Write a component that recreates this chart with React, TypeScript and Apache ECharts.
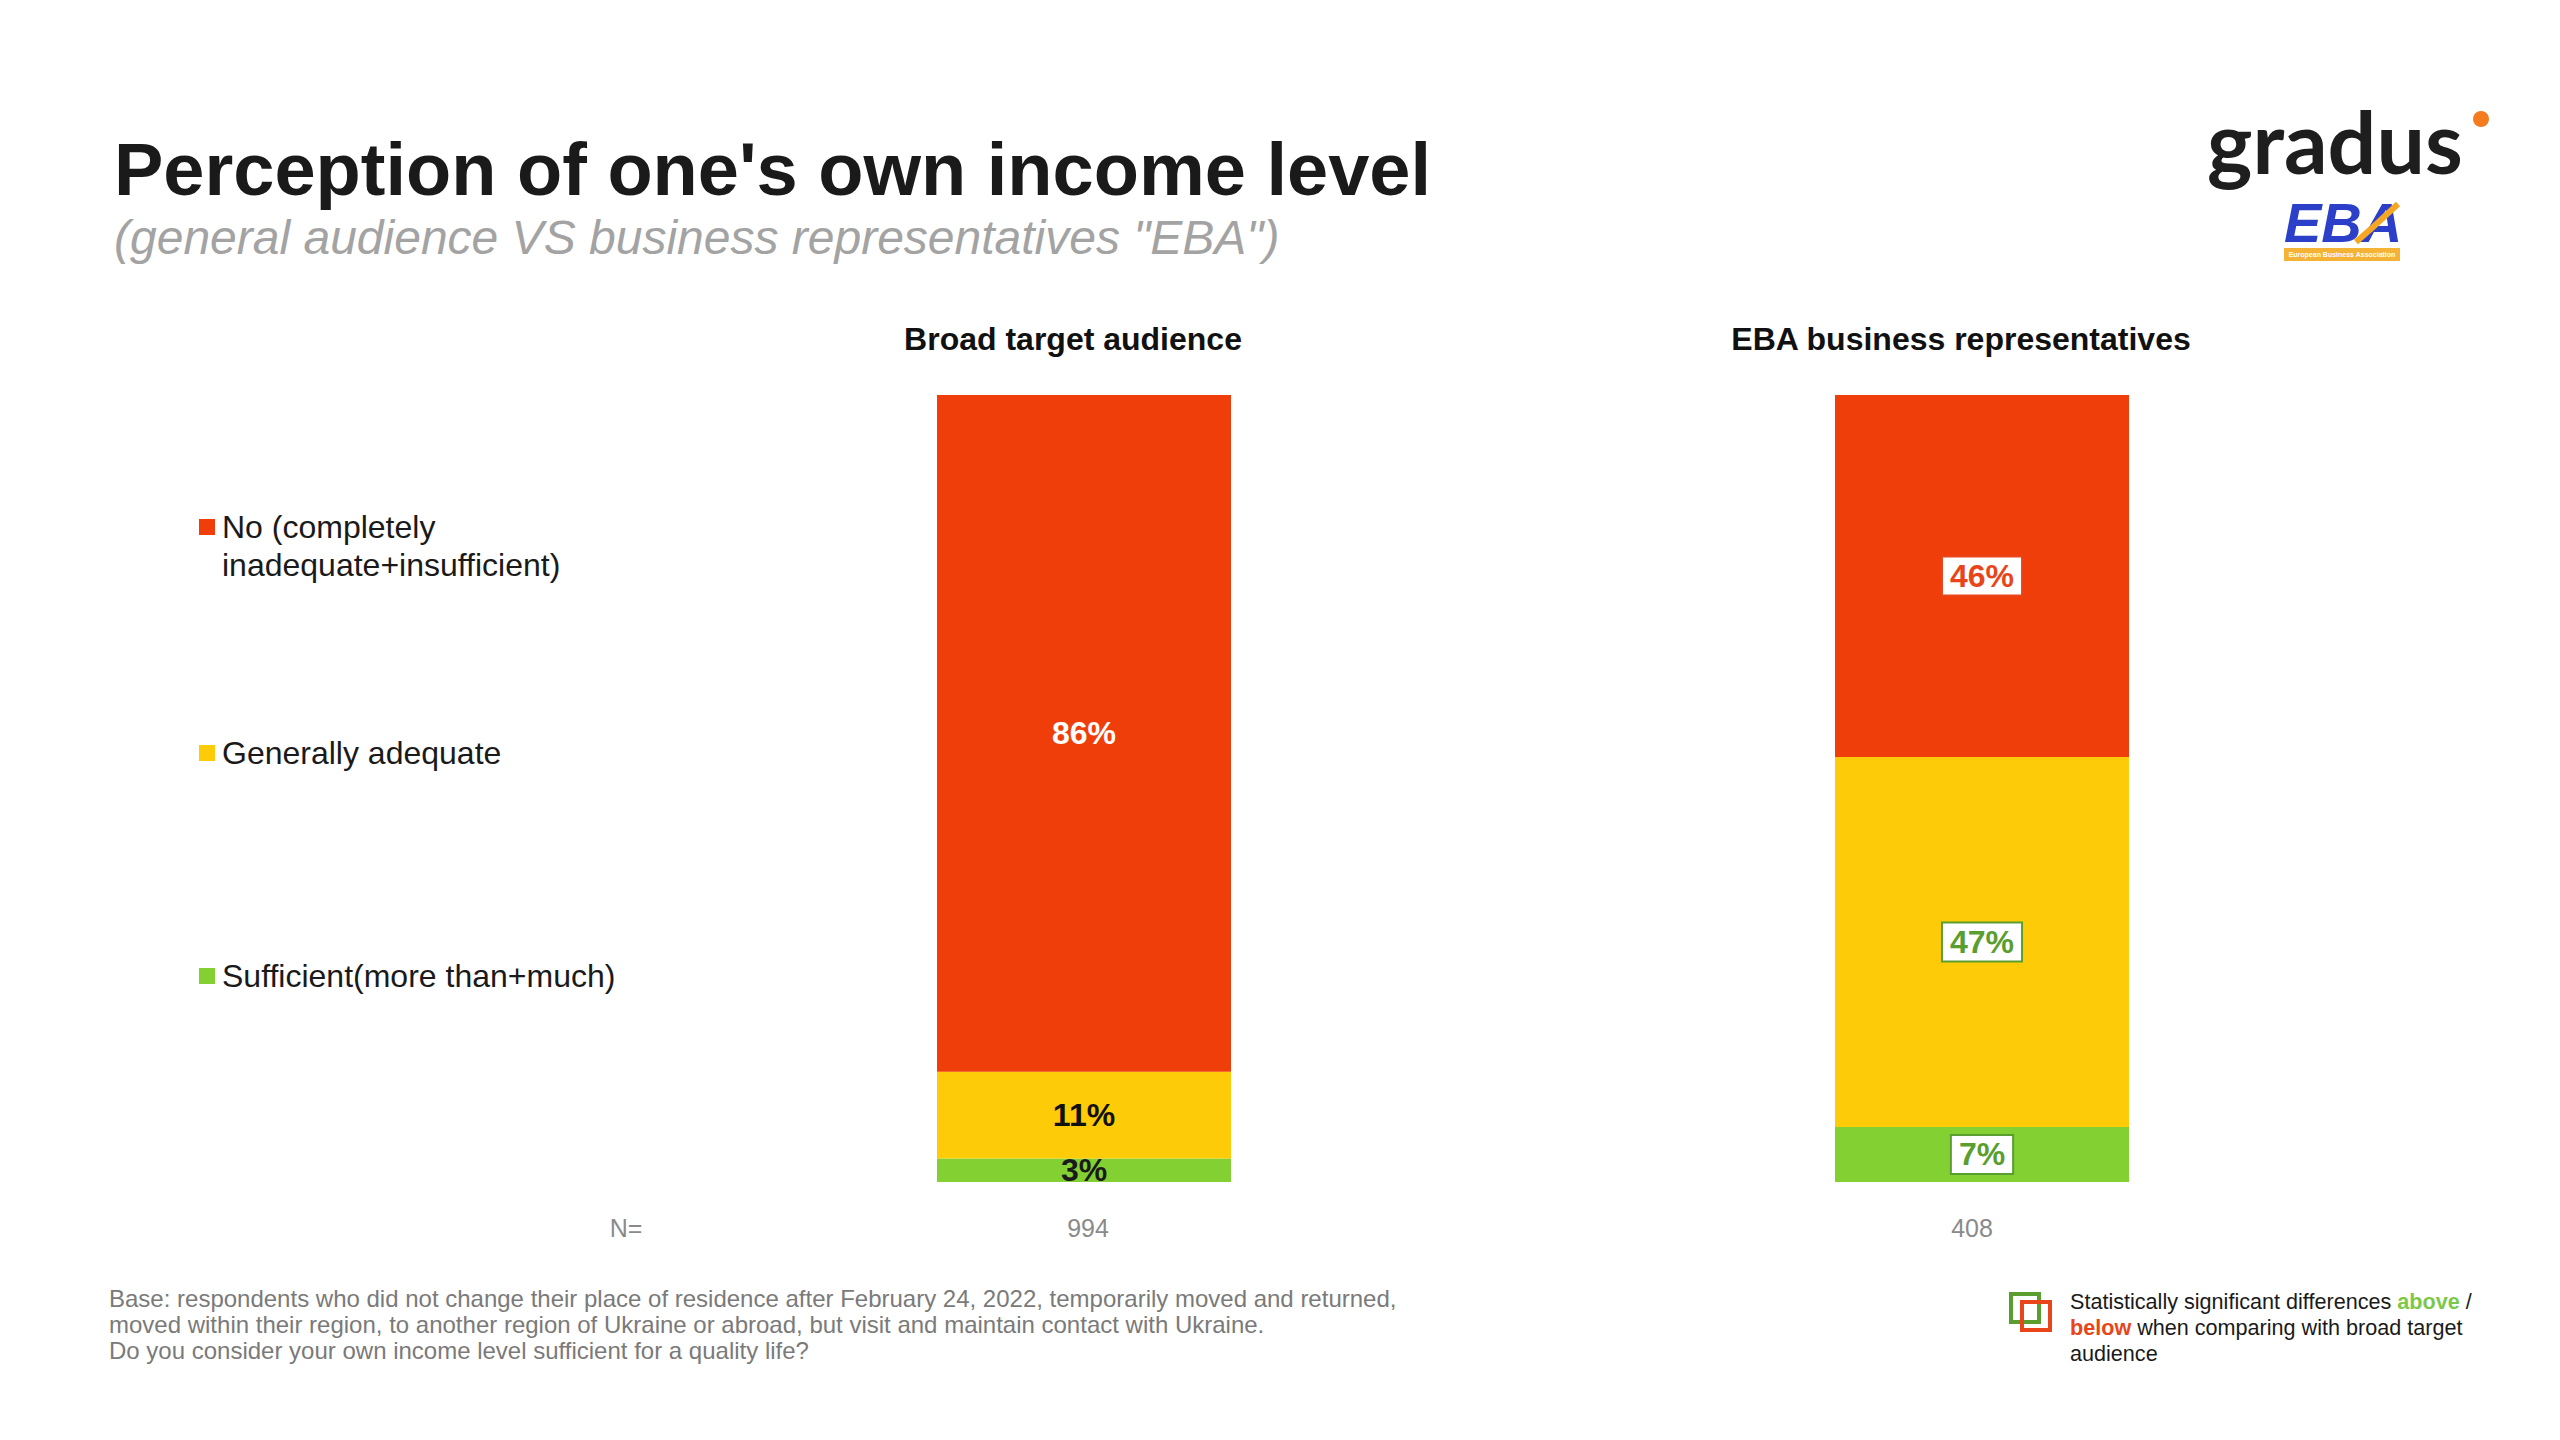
import { useEffect, useRef } from 'react';
import * as echarts from 'echarts';

const groups = ['Broad target audience', 'EBA business representatives'];
const sampleSizes = ['994', '408'];

const seriesNames = ['No (completely\ninadequate+insufficient)', 'Generally adequate', 'Sufficient(more than+much)'];
const noValues = [86, 46];
const adequateValues = [11, 47];
const sufficientValues = [3, 7];

// significance of the EBA value vs broad audience (null = no test shown)
const noSig = [null, 'below'];
const adequateSig = [null, 'above'];
const sufficientSig = [null, 'above'];

const footnotes = [
  'Base: respondents who did not change their place of residence after February 24, 2022, temporarily moved and returned,',
  'moved within their region, to another region of Ukraine or abroad, but visit and maintain contact with Ukraine.',
  'Do you consider your own income level sufficient for a quality life?',
];

const RED = '#f03e0a';
const YELLOW = '#fdcb08';
const GREEN = '#82d032';
const SIG_COLORS: Record<string, string> = { above: '#5a9e2f', below: '#e8451a' };
const FONT = '"Liberation Sans", Arial, sans-serif';

function buildData(values: number[], sig: (string | null)[]) {
  return values.map((v, i) => {
    const s = sig[i];
    if (!s) return v;
    return {
      value: v,
      label: {
        color: SIG_COLORS[s],
        backgroundColor: '#ffffff',
        borderColor: SIG_COLORS[s],
        borderWidth: 2,
        padding: [4, 7, 1, 7],
      },
    };
  });
}

export default function App() {
  const chartRef = useRef<HTMLDivElement>(null);

  useEffect(() => {
    if (!chartRef.current) return;
    document.body.style.margin = '0';
    const chart = echarts.init(chartRef.current, null, { renderer: 'svg' });

    const labelBase = {
      show: true,
      position: 'inside' as const,
      fontFamily: FONT,
      fontSize: 32,
      fontWeight: 'bold' as const,
      formatter: (p: any) => `${p.value}%`,
    };

    const legendColors = [RED, YELLOW, GREEN];
    const legendY = [527, 753, 976];
    const legendGraphics: any[] = [];
    seriesNames.forEach((name, i) => {
      legendGraphics.push({
        type: 'rect',
        shape: { x: 199, y: legendY[i] - 8, width: 16, height: 16 },
        style: { fill: legendColors[i] },
      });
      const multi = name.includes('\n');
      legendGraphics.push({
        type: 'text',
        x: 222,
        y: multi ? legendY[i] - 19 : legendY[i],
        style: {
          text: name,
          fontFamily: FONT,
          fontSize: 32,
          lineHeight: 38,
          fill: '#1a1a1a',
          verticalAlign: multi ? 'top' : 'middle',
        },
      });
    });

    const option: echarts.EChartsOption = {
      animation: false,
      backgroundColor: '#ffffff',
      grid: { left: 635, right: 129, top: 395, bottom: 258 },
      xAxis: [
        {
          type: 'category',
          data: groups,
          axisLine: { show: false },
          axisTick: { show: false },
          axisLabel: {
            formatter: (_v: string, i: number) => `{n${i}|${sampleSizes[i]}}`,
            color: '#8a8a8a',
            fontFamily: FONT,
            fontSize: 25,
            margin: 33,
            rich: {
              n0: { fontFamily: FONT, fontSize: 25, color: '#8a8a8a', padding: [0, 0, 0, 8] },
              n1: { fontFamily: FONT, fontSize: 25, color: '#8a8a8a', padding: [0, 20, 0, 0] },
            },
          },
        },
        {
          type: 'category',
          position: 'top',
          data: groups,
          axisLine: { show: false },
          axisTick: { show: false },
          axisLabel: {
            formatter: (v: string, i: number) => `{t${i}|${v}}`,
            margin: 40,
            rich: {
              t0: { fontFamily: FONT, fontSize: 32, fontWeight: 'bold', color: '#111111', padding: [0, 22, 0, 0] },
              t1: { fontFamily: FONT, fontSize: 32, fontWeight: 'bold', color: '#111111', padding: [0, 42, 0, 0] },
            },
          },
        },
      ],
      yAxis: {
        type: 'value',
        min: 0,
        max: 100,
        show: false,
      },
      series: [
        {
          name: seriesNames[2],
          type: 'bar',
          stack: 'total',
          barWidth: 294,
          data: buildData(sufficientValues, sufficientSig) as any,
          itemStyle: { color: GREEN },
          label: { ...labelBase, color: '#1a1a1a' },
        },
        {
          name: seriesNames[1],
          type: 'bar',
          stack: 'total',
          barWidth: 294,
          data: buildData(adequateValues, adequateSig) as any,
          itemStyle: { color: YELLOW },
          label: { ...labelBase, color: '#111111' },
        },
        {
          name: seriesNames[0],
          type: 'bar',
          stack: 'total',
          barWidth: 294,
          data: buildData(noValues, noSig) as any,
          itemStyle: { color: RED },
          label: { ...labelBase, color: '#ffffff' },
        },
      ],
      graphic: [
        {
          type: 'text',
          x: 114,
          y: 169,
          style: {
            text: "Perception of one's own income level",
            fontFamily: FONT,
            fontSize: 74,
            fontWeight: 'bold',
            fill: '#1a1a1a',
            verticalAlign: 'middle',
          },
        },
        {
          type: 'text',
          x: 114,
          y: 237,
          style: {
            text: '(general audience VS business representatives "EBA")',
            fontFamily: FONT,
            fontSize: 48,
            fontStyle: 'italic',
            fill: '#a3a3a3',
            verticalAlign: 'middle',
          },
        },
        ...legendGraphics,
        {
          type: 'text',
          x: 626,
          y: 1228,
          style: {
            text: 'N=',
            fontFamily: FONT,
            fontSize: 25,
            fill: '#8a8a8a',
            align: 'center',
            verticalAlign: 'middle',
          },
        },
        ...footnotes.map((line, i) => ({
          type: 'text',
          x: 109,
          y: 1298 + i * 26,
          style: {
            text: line,
            fontFamily: FONT,
            fontSize: 24,
            fill: '#7a7a7a',
            verticalAlign: 'middle',
          },
        })),
        // significance legend
        {
          type: 'rect',
          shape: { x: 2011, y: 1294, width: 28, height: 28 },
          style: { fill: 'none', stroke: '#5a9e2f', lineWidth: 4 },
        },
        {
          type: 'rect',
          shape: { x: 2022, y: 1302, width: 28, height: 28 },
          style: { fill: 'none', stroke: '#e8451a', lineWidth: 4 },
        },
        {
          type: 'text',
          x: 2070,
          y: 1288,
          style: {
            text: 'Statistically significant differences {g|above} /\n{r|below} when comparing with broad target\naudience',
            fontFamily: FONT,
            fontSize: 21.6,
            lineHeight: 26,
            fill: '#1a1a1a',
            verticalAlign: 'top',
            rich: {
              g: { fontFamily: FONT, fontSize: 21.6, fontWeight: 'bold', fill: '#7cc84a' },
              r: { fontFamily: FONT, fontSize: 21.6, fontWeight: 'bold', fill: '#e8451a' },
            },
          },
        },
        // gradus logo
        {
          type: 'text',
          x: 2207,
          y: 140,
          style: {
            text: 'gradus',
            fontFamily: 'Lato, "Open Sans", sans-serif',
            fontSize: 86,
            fontWeight: 'bold',
            fill: '#1e1e1e',
            verticalAlign: 'middle',
          },
        },
        {
          type: 'circle',
          shape: { cx: 2481, cy: 119, r: 8 },
          style: { fill: '#f47b20' },
        },
        // EBA logo
        {
          type: 'text',
          x: 2284,
          y: 222,
          style: {
            text: 'EBA',
            fontFamily: FONT,
            fontSize: 56,
            fontWeight: 'bold',
            fontStyle: 'italic',
            fill: '#2c3fc9',
            verticalAlign: 'middle',
          },
        },
        {
          type: 'polyline',
          shape: { points: [[2356, 242], [2372, 228], [2398, 204]] },
          style: { stroke: '#f5a623', lineWidth: 6, fill: 'none' },
        },
        {
          type: 'rect',
          shape: { x: 2284, y: 248, width: 116, height: 13 },
          style: { fill: '#f5b335' },
        },
        {
          type: 'text',
          x: 2342,
          y: 254.5,
          style: {
            text: 'European Business Association',
            fontFamily: FONT,
            fontSize: 7,
            fontWeight: 'bold',
            fill: '#ffffff',
            align: 'center',
            verticalAlign: 'middle',
          },
        },
      ],
    };

    chart.setOption(option);

    return () => {
      chart.dispose();
    };
  }, []);

  return <div ref={chartRef} style={{ width: '2560px', height: '1440px' }}></div>;
}
